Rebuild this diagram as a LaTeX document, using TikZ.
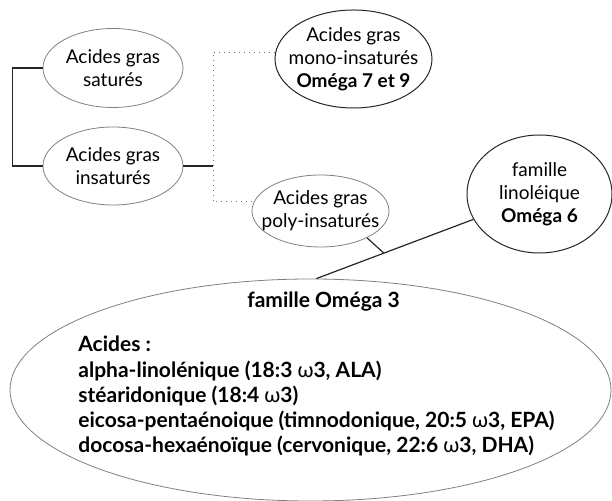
\documentclass[tikz,border=0pt]{standalone}
\usepackage{fontspec}
\setmainfont{Lato}
\usetikzlibrary{shapes.geometric,calc}
\newcommand{\om}{{\mdseries ω}}

\begin{document}
\begin{tikzpicture}[x=0.5pt,y=-0.5pt,
  bulle/.style={ellipse,draw=black!50,line width=0.4pt,inner xsep=-6pt,inner ysep=-2pt,
    align=center,font=\fontsize{9.5}{11.5}\selectfont},
  forte/.style={bulle,draw=black!85,line width=0.5pt},
  lien/.style={draw=black!85,line width=0.6pt},
  pointille/.style={draw=black!55,line width=0.5pt,dotted}]
  \useasboundingbox (0,0) rectangle (612,501);
  % the families
  \node[bulle,minimum width=70pt,minimum height=39.5pt] (sat) at (113,68) {Acides gras\\saturés};
  \node[bulle,minimum width=70pt,minimum height=39pt] (insat) at (113,166) {Acides gras\\insaturés};
  \node[forte,minimum width=78.5pt,minimum height=49pt] (mono) at (353.5,59)
    {Acides gras\\mono-insaturés\\\textbf{Oméga 7 et 9}};
  \node[bulle,minimum width=68.5pt,minimum height=36pt] (poly) at (320.5,211) {Acides gras\\poly-insaturés};
  \node[forte,minimum width=72.5pt,minimum height=59pt] (lino) at (539.5,194)
    {famille\\linoléique\\\textbf{Oméga 6}};
  \node[bulle,minimum width=300.5pt,minimum height=111pt] (o3) at (310.5,390) {};
  % text of the big one
  \node[font=\fontsize{10.5}{12}\selectfont\bfseries] (titre) at (323.5,302) {famille Oméga 3};
  \node[anchor=north west,align=left,inner sep=0pt,
    font=\fontsize{10.5}{12.6}\selectfont\bfseries] (liste) at (78,336)
    {Acides :\\
     alpha-linolénique (18:3 \om3, ALA)\\
     stéaridonique (18:4 \om3)\\
     eicosa-pentaénoique (timnodonique, 20:5 \om3, EPA)\\
     docosa-hexaénoïque (cervonique, 22:6 \om3, DHA)};
  % connectors
  \coordinate (split) at (213,166);
  \draw[lien] (sat.west) -- ++(-30,0) |- (insat.west);
  \draw[lien] (insat.east) -- (split);
  \draw[pointille] (mono.175) -| (split) |- (poly.172);
  \draw[lien] (lino.201) -- (o3.87);
  \coordinate (knot) at ($(lino.201)!0.57!(o3.87)$);
  \draw[lien] (poly.-30) -- (knot);
\end{tikzpicture}
\end{document}
